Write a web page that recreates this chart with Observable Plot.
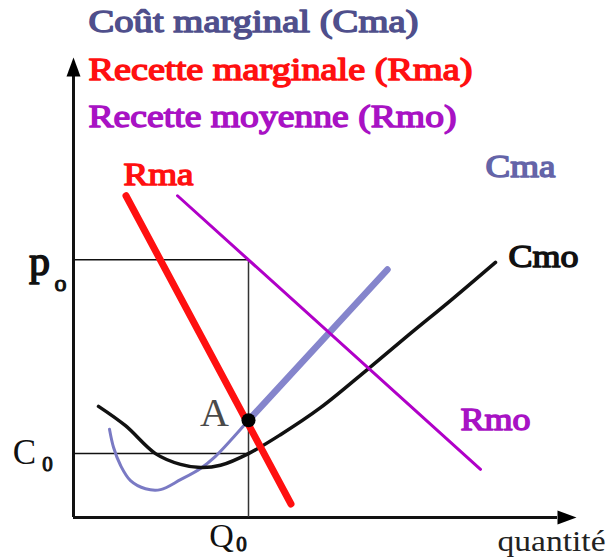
<!DOCTYPE html>
<html><head><meta charset="utf-8">
<script src="https://cdn.jsdelivr.net/npm/d3@7"></script>
<script src="https://cdn.jsdelivr.net/npm/@observablehq/plot@0.6"></script>
<style>body{margin:0;background:#fff} svg{display:block}</style>
</head><body><div id="chart"></div>
<script>
// Monopoly equilibrium: quantity on x, price / cost on y (arbitrary units)
const Q0 = 35;      // quantity where Rma = Cma
const P0 = 57.3;    // price read on Rmo at Q0
const C0 = 14.2;    // average cost read on Cmo at Q0
const pointA = [{q: 35, p: 21.6}];

// Recette marginale (Rma)
const rmaQ = [10.5, 43.5];
const rmaP = [71.5, 3];
// Recette moyenne (Rmo)
const rmoQ = [20.8, 81.4];
const rmoP = [71.5, 10.7];
// Coût marginal (Cma): curved lower part, then straight rising part
const cmaQ = [7.2, 8, 9.4, 11.4, 14.4, 17.4, 21.4, 25.4, 28.4, 31.4, 35];
const cmaP = [19.6, 15.6, 11.6, 8.2, 6.4, 6.2, 8.4, 10.9, 13.6, 17.1, 21.6];
const cmaUpQ = [35, 62.8];
const cmaUpP = [21.6, 55.1];
// Coût moyen (Cmo)
const cmoQ = [5, 10.4, 16.4, 21.4, 25.4, 29.4, 35, 41.4, 49.4, 59, 67.4, 75.4, 84.4];
const cmoP = [24.7, 20.4, 14.2, 11.8, 11.1, 11.6, 14.2, 18.4, 24.4, 33.1, 40.9, 48.2, 56.7];

const titles = ["Coût marginal (Cma)", "Recette marginale (Rma)", "Recette moyenne (Rmo)"];
const titleColors = ["#4f4f8c", "#ff1010", "#a812c4"];

const serif = "'Liberation Serif', 'Times New Roman', serif";
const pts = (qs, ps) => d3.zip(qs, ps).map(([q, p]) => ({q, p}));

// filled arrow head, tip pointing up, base at the anchor point
const arrowHead = {
  draw(ctx) {
    ctx.moveTo(0, -19);
    ctx.lineTo(7, 0);
    ctx.lineTo(-7, 0);
    ctx.closePath();
  }
};

// heavy serif lettering: regular serif outlined in its own colour
const heavy = (fill, w = 1.4) => ({fontFamily: serif, fontWeight: 400, fill, stroke: fill, strokeWidth: w});
const plain = {fontFamily: serif, fontWeight: 400};
const label = (s, x, y, fill, opts = {}) =>
  Plot.text([s], {x, y, text: d => d, ...heavy(fill), fontSize: 31, ...opts});

const chart = Plot.plot({
  width: 613,
  height: 557,
  marginLeft: 73,
  marginRight: 40,
  marginTop: 67,
  marginBottom: 40,
  x: {domain: [0, 100], axis: null},
  y: {domain: [0, 100], axis: null},
  marks: [
    // axes with arrows
    Plot.ruleX([0], {y1: 0, y2: 98, stroke: "#111", strokeWidth: 3}),
    Plot.ruleY([0], {x1: 0, x2: 96.8, stroke: "#111", strokeWidth: 3}),
    Plot.dot([{q: 0, p: 98}], {x: "q", y: "p", symbol: arrowHead, fill: "#000", stroke: "none"}),
    Plot.dot([{q: 96.8, p: 0}], {x: "q", y: "p", symbol: arrowHead, rotate: 90, fill: "#000", stroke: "none"}),
    // guides for p0, C0 and Q0
    Plot.ruleY([P0], {x1: 0, x2: Q0, stroke: "#111", strokeWidth: 1.5}),
    Plot.ruleY([C0], {x1: 0, x2: Q0, stroke: "#111", strokeWidth: 1.5}),
    Plot.ruleX([Q0], {y1: 0, y2: P0, stroke: "#333", strokeWidth: 1.5}),
    // curves
    Plot.line(pts(cmaQ, cmaP), {x: "q", y: "p", curve: "catmull-rom", stroke: "#7a7ac4", strokeWidth: 3}),
    Plot.line(pts(cmaUpQ, cmaUpP), {x: "q", y: "p", stroke: "#8585cc", strokeWidth: 6.5}),
    Plot.line(pts(cmoQ, cmoP), {x: "q", y: "p", curve: "catmull-rom", stroke: "#111", strokeWidth: 3.5}),
    Plot.line(pts(rmoQ, rmoP), {x: "q", y: "p", stroke: "#b000c8", strokeWidth: 3}),
    Plot.line(pts(rmaQ, rmaP), {x: "q", y: "p", stroke: "#ff1010", strokeWidth: 7}),
    Plot.dot(pointA, {x: "q", y: "p", r: 7, fill: "#000"}),
    // titles
    ...titles.map((t, i) => Plot.text([t], {
      x: 3, y: 110 - i * 10.5, text: d => d, textAnchor: "start", ...heavy(titleColors[i]), fontSize: 31
    })),
    // curve labels
    label("Rma", 17, 76.2, "#ff1010"),
    label("Cma", 89.4, 77.8, "#6464a8"),
    label("Cmo", 94, 57.8, "#111"),
    label("Rmo", 84.4, 21.6, "#a812c4"),
    label("A", 28.2, 23.2, "#4a4a4a", {stroke: "none", fontSize: 40}),
    // axis value labels
    label("p", -6.8, 56.8, "#111", {fontSize: 42, strokeWidth: 1.6}),
    label("o", -2.6, 52.0, "#111", {fontSize: 24, strokeWidth: 1.1}),
    label("C", -9.8, 14.4, "#111", {stroke: "none", fontSize: 35}),
    label("0", -5.2, 11.9, "#111", {fontSize: 21, strokeWidth: 1}),
    label("Q", 29.6, -4.2, "#111", {stroke: "none", fontSize: 34}),
    label("0", 33.6, -6.0, "#111", {fontSize: 21, strokeWidth: 1}),
    label("quantité", 95.6, -5.4, "#222", {stroke: "none", fontSize: 30})
  ]
});

// stretch the wide lettering to its drawn width
const textWidths = new Map([
  ["Coût marginal (Cma)", 330], ["Recette marginale (Rma)", 384], ["Recette moyenne (Rmo)", 368],
  ["Rma", 70], ["Cma", 70], ["Cmo", 70], ["Rmo", 70], ["quantité", 108]
]);
chart.querySelectorAll("text").forEach(t => {
  const w = textWidths.get(t.textContent);
  if (w) {
    t.setAttribute("textLength", w);
    t.setAttribute("lengthAdjust", "spacingAndGlyphs");
  }
});
document.getElementById("chart").append(chart);
</script>
</body></html>
